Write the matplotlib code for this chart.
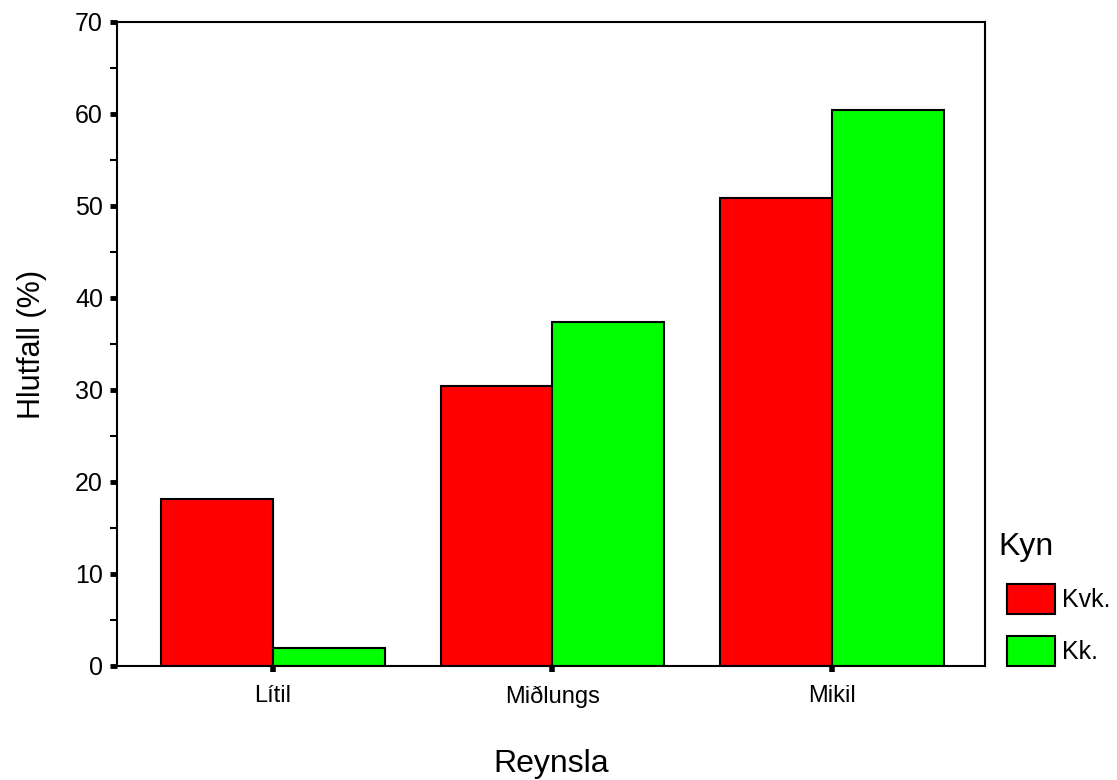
import numpy as np
import matplotlib.pyplot as plt
from matplotlib.ticker import MultipleLocator

plt.rcParams['font.family'] = ['Liberation Sans', 'DejaVu Sans']

categories = ['Lítil', 'Miðlungs', 'Mikil']
kvk = [18.2, 30.4, 50.9]
kk = [2.0, 37.4, 60.4]
series_names = ['Kvk.', 'Kk.']

fig = plt.figure(figsize=(11.17, 7.80), dpi=100)
ax = fig.add_axes([0.1047, 0.1462, 0.7771, 0.8256])

x = np.arange(len(categories))
w = 0.4
b1 = ax.bar(x - w / 2, kvk, w, color='#ff0000', edgecolor='black', linewidth=1.5, label=series_names[0])
b2 = ax.bar(x + w / 2, kk, w, color='#00ff00', edgecolor='black', linewidth=1.5, label=series_names[1])

ax.set_xlim(-0.557, 2.546)
ax.set_ylim(0, 70)
ax.set_xticks(x)
ax.set_xticklabels(categories, fontsize=17)
ax.yaxis.set_major_locator(MultipleLocator(10))
ax.yaxis.set_minor_locator(MultipleLocator(5))
ax.tick_params(axis='y', which='major', length=5, width=3.5, labelsize=18, pad=5)
ax.tick_params(axis='y', which='minor', length=5, width=1.5)
ax.tick_params(axis='x', length=4, width=4, pad=10)
for s in ax.spines.values():
    s.set_linewidth(1.5)

# axis titles
fig.text(32 / 1117, 1 - 344 / 780, 'Hlutfall (%)', fontsize=22, rotation=90, ha='center', va='center')
fig.text(551 / 1117, 1 - 772 / 780, 'Reynsla', fontsize=23, ha='center', va='baseline')

# legend
fig.text(998 / 1117, 1 - 555 / 780, 'Kyn', fontsize=23, ha='left', va='baseline')
leg = fig.legend(handles=[b1, b2], labels=series_names, loc='upper left',
                 bbox_to_anchor=(1007 / 1117, 1 - 584 / 780), frameon=False, fontsize=18,
                 handlelength=1.9, handleheight=1.45, handletextpad=0.3,
                 labelspacing=0.9, borderpad=0, borderaxespad=0)

fig.savefig('out.png', dpi=100)
